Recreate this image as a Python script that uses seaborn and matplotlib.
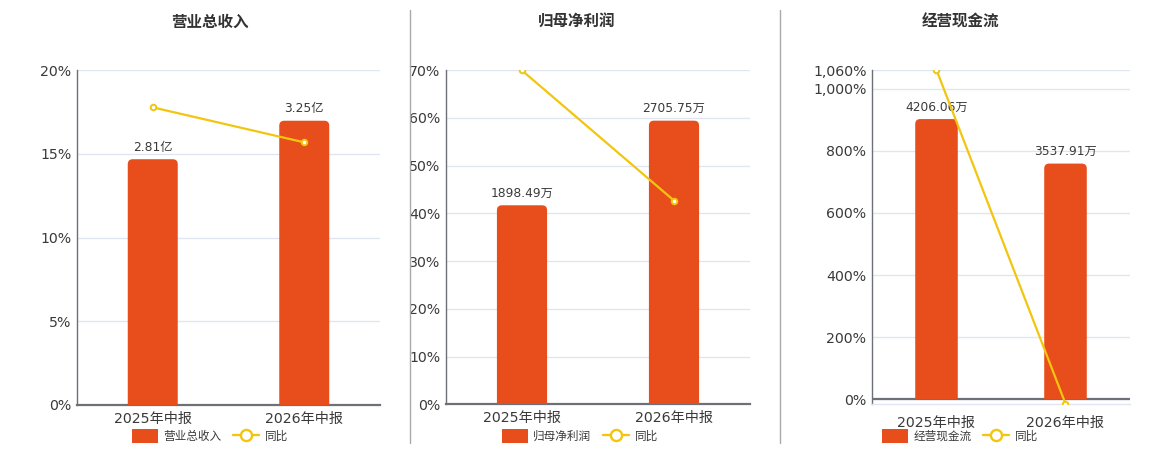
import numpy as np
import matplotlib
matplotlib.use("Agg")
import matplotlib.pyplot as plt
import seaborn as sns
from matplotlib.patches import FancyBboxPatch, Rectangle, Patch
from matplotlib.lines import Line2D
from matplotlib.ticker import FuncFormatter

sns.set_theme(style="white")
plt.rcParams['font.family'] = ['DejaVu Sans', 'Noto Sans CJK SC']

# 数据
periods = ['2025年中报', '2026年中报']
titles = ['营业总收入', '归母净利润', '经营现金流']
revenue = [2.81, 3.25]            # 亿
revenue_yoy = [17.77, 15.68]      # %
profit = [1898.49, 2705.75]       # 万
profit_yoy = [69.9, 42.66]        # %
cashflow = [4206.06, 3537.91]     # 万
cashflow_yoy = [1060.0, -13.9]    # %
units = ['亿', '万', '万']

# 坐标轴范围 / 刻度
pct_ticks = [[0, 5, 10, 15, 20],
             [0, 10, 20, 30, 40, 50, 60, 70],
             [0, 200, 400, 600, 800, 1000, 1060]]
pct_lims = [(0, 20), (0, 70), (-13.9, 1060)]
bar_max = [3.83, 3189, 4942]

BAR = '#E84D1C'
LINE = '#F2C50F'
GRID = '#E0E6F1'
SPINE = '#6E7079'
TXT = '#3A3A3A'

W, H = 1160, 450
fig = plt.figure(figsize=(W / 100, H / 100), dpi=100)

# 像素位置 (left, right, top, bottom)
boxes = [(77, 380, 70, 405), (446, 750, 70, 404.3), (872, 1130, 70, 403.7)]
title_x = [210, 577, 960]
legend_x = [210, 580, 960]

bars_all = [revenue, profit, cashflow]
yoy_all = [revenue_yoy, profit_yoy, cashflow_yoy]

for i in range(3):
    l, r, t, b = boxes[i]
    ax = fig.add_axes([l / W, (H - b) / H, (r - l) / W, (b - t) / H])
    ax_bar = ax.twinx()
    ax_line = ax.twinx()

    ymin, ymax = pct_lims[i]
    ax.set_ylim(ymin, ymax)
    bmax = bar_max[i]
    bmin = ymin / ymax * bmax
    ax_bar.set_ylim(bmin, bmax)

    sns.barplot(x=periods, y=bars_all[i], ax=ax_bar, color=BAR, width=0.33,
                saturation=1)
    sns.pointplot(x=periods, y=yoy_all[i], ax=ax_line, color=LINE, markers='o',
                  linestyles='-', markersize=4, linewidth=1.6,
                  markerfacecolor='white', markeredgewidth=1.4)
    ax_line.set_ylim(ymin, ymax)
    for a in (ax, ax_bar, ax_line):
        a.set_xlim(-0.5, 1.5)

    # 圆角柱
    px_x = (r - l) / 2.0
    px_y = (b - t) / (bmax - bmin)
    rad = 5.0 / px_x
    aspect = px_x / px_y
    for p in list(ax_bar.patches):
        x0, w, h = p.get_x(), p.get_width(), p.get_height()
        p.remove()
        ry = rad * aspect
        fb = FancyBboxPatch((x0, -ry), w, h + ry,
                            boxstyle=f"round,pad=0,rounding_size={rad}",
                            mutation_aspect=aspect, fc=BAR, ec='none')
        ax_bar.add_patch(fb)
        clip = Rectangle((x0 - 0.1, 0), w + 0.2, bmax * 2, transform=ax_bar.transData)
        fb.set_clip_path(clip)
    for j, v in enumerate(bars_all[i]):
        ax_bar.annotate(f'{v:.2f}{units[i]}', (j, v), xytext=(0, 4),
                        textcoords='offset points', ha='center', va='bottom',
                        fontsize=8.8, color=TXT)

    # 百分比轴
    ax.set_yticks(pct_ticks[i])
    ax.yaxis.set_major_formatter(FuncFormatter(lambda v, pos: f'{v:,.0f}%'))
    ax.grid(axis='y', color=GRID, linewidth=1)
    ax.set_axisbelow(True)
    ax.tick_params(axis='y', length=0, pad=4, labelsize=10.2, labelcolor=TXT)
    ax.set_xticks([0, 1], labels=periods)
    ax.set_xticks([-0.5, 0.5, 1.5], minor=True)
    ax.tick_params(axis='x', which='major', length=0, labelsize=10.2,
                   labelcolor=TXT, pad=5)
    for s in ('top', 'right'):
        ax.spines[s].set_visible(False)
    ax.spines['left'].set_color(SPINE)
    ax.spines['left'].set_linewidth(1)
    if ymin < 0:
        ax.spines['bottom'].set_color(GRID)
        ax.spines['bottom'].set_linewidth(1)
        ax.axhline(0, color=SPINE, linewidth=1.6, zorder=3)
        ax.tick_params(axis='x', which='minor', direction='in', length=3.3,
                       color=SPINE, width=1)
        ax.tick_params(axis='x', which='major', pad=9)
    else:
        ax.spines['bottom'].set_color(SPINE)
        ax.spines['bottom'].set_linewidth(1.6)
        ax.tick_params(axis='x', which='minor', direction='out', length=3.5,
                       color=SPINE, width=1)
    for a in (ax_bar, ax_line):
        a.set_yticks([])
        a.set_ylabel('')
        a.set_xlabel('')
        a.tick_params(axis='x', length=0, labelbottom=False)
        for s in a.spines.values():
            s.set_visible(False)
    ax.set_ylabel('')

    fig.text(title_x[i] / W, 1 - 22 / H, titles[i], ha='center', va='center',
             fontsize=11.2, fontweight='bold', color='#333333')

    handles = [Patch(facecolor=BAR, edgecolor='none'),
               Line2D([], [], color=LINE, marker='o', markersize=8,
                      markerfacecolor='white', markeredgewidth=1.7, linewidth=1.7)]
    fig.legend(handles, [titles[i], '同比'], loc='center',
               bbox_to_anchor=(legend_x[i] / W, 1 - 436 / H), ncol=2,
               frameon=False, fontsize=8.4, handlelength=2.2, handleheight=1.4,
               columnspacing=1.0, handletextpad=0.5, labelcolor=TXT)

for xs in (410, 780):
    fig.add_artist(Line2D([xs / W, xs / W], [1 - 443 / H, 1 - 10 / H],
                          color='#AAAAAA', linewidth=1, transform=fig.transFigure))

fig.savefig('out.png', dpi=100)
